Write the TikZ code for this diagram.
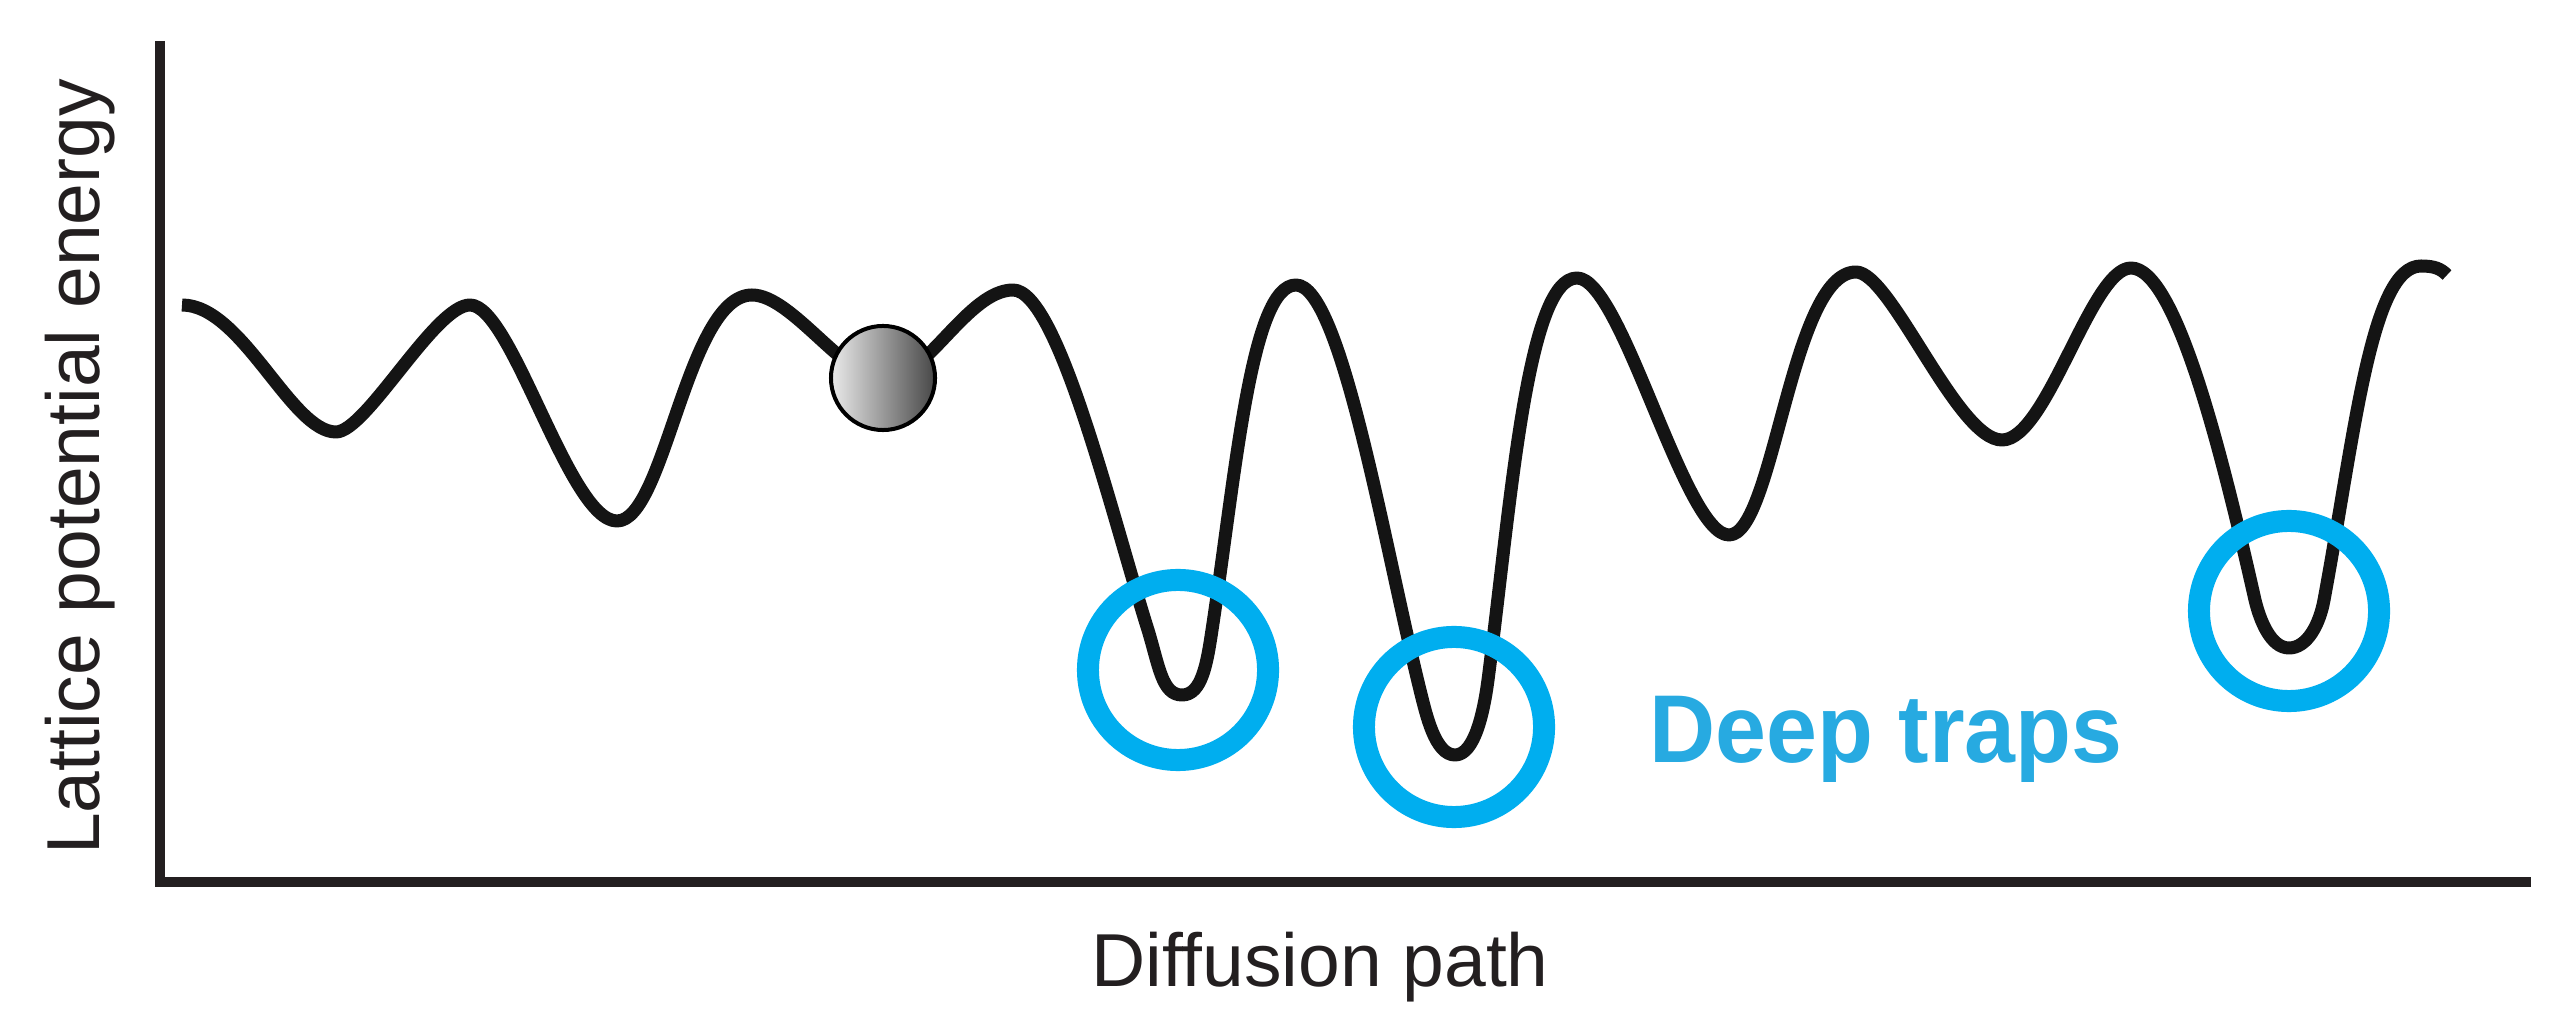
\documentclass[tikz,border=0pt]{standalone}
\usepackage{fontspec}
\setmainfont{Liberation Sans}
\definecolor{trapblue}{HTML}{00AEEF}
\definecolor{traptext}{HTML}{27AAE1}
\definecolor{inkgray}{HTML}{231F20}
\begin{document}
\begin{tikzpicture}[x=0.01cm,y=-0.01cm,
  axisline/.style={line width=0.105cm, draw=inkgray, line join=miter},
  energy/.style={line width=0.13cm, draw=black!92, line join=round},
  trapring/.style={circle, draw=trapblue, line width=0.22cm, minimum size=1.8cm, inner sep=0pt},
  atom/.style={circle, draw=black, line width=0.04cm, minimum size=1.04cm, inner sep=0pt,
    left color=black!8, right color=black!72, shading angle=90},
  labeltext/.style={text=inkgray, font=\fontsize{21.34pt}{24pt}\selectfont, inner sep=0pt, anchor=base},
  traplabel/.style={text=traptext, font=\fontsize{27.4pt}{30pt}\selectfont\bfseries, inner sep=0pt, anchor=base}
]
\useasboundingbox (0,0) rectangle (2572,1028);
\fill[white] (0,0) rectangle (2572,1028);

% axes
\coordinate (ytop) at (160,41);
\coordinate (origin) at (160,882);
\coordinate (xend) at (2531,882);
\draw[axisline] (ytop) -- (origin) -- (xend);

% energy landscape: extrema and slope points of the curve
\coordinate (s0) at (182,305);
\coordinate (v1) at (336,432);
\coordinate (p1) at (470,305);
\coordinate (v2) at (617,521);
\coordinate (p2) at (752,295);
\coordinate (vb) at (885,380);
\coordinate (p3) at (1013,290);
\coordinate (m3) at (1148,630);
\coordinate (v3) at (1182,695);
\coordinate (n3) at (1212,630);
\coordinate (p4) at (1296,285);
\coordinate (m4) at (1420,690);
\coordinate (v4) at (1455,755);
\coordinate (n4) at (1488,680);
\coordinate (p5) at (1577,278);
\coordinate (v5) at (1729,535);
\coordinate (p6) at (1856,272);
\coordinate (v6) at (2002,440);
\coordinate (p7) at (2131,268);
\coordinate (m7) at (2255,600);
\coordinate (v7) at (2289,648);
\coordinate (n7) at (2324,600);
\coordinate (p8) at (2421,266);
\coordinate (tip) at (2447,275);

\draw[energy] (s0)
  .. controls +(60,0) and +(-45,0) .. (v1)
  .. controls +(30,0) and +(-35,0) .. (p1)
  .. controls +(42,0) and +(-48,0) .. (v2)
  .. controls +(48,0) and +(-65,0) .. (p2)
  .. controls +(40,0) and +(-40,0) .. (vb)
  .. controls +(40,0) and +(-45,0) .. (p3)
  .. controls +(45,0) and +(-36,-114) .. (m3)
  .. controls +(11,36) and +(-20,0) .. (v3)
  .. controls +(20,0) and +(-5,33) .. (n3)
  .. controls +(24,-158) and +(-45,0) .. (p4)
  .. controls +(45,0) and +(-36,-146) .. (m4)
  .. controls +(6,24) and +(-20,0) .. (v4)
  .. controls +(20,0) and +(-4,30) .. (n4)
  .. controls +(23,-178) and +(-50,0) .. (p5)
  .. controls +(45,0) and +(-45,0) .. (v5)
  .. controls +(45,0) and +(-65,0) .. (p6)
  .. controls +(35,0) and +(-45,0) .. (v6)
  .. controls +(45,0) and +(-40,0) .. (p7)
  .. controls +(45,0) and +(-33,-146) .. (m7)
  .. controls +(5,21) and +(-18,0) .. (v7)
  .. controls +(18,0) and +(-4.5,24.6) .. (n7)
  .. controls +(31,-167) and +(-50,0) .. (p8)
  .. controls +(14,0) and +(-6,-6) .. (tip);

% atom
\node[atom] (ball) at (883,378) {};

% deep-trap rings
\node[trapring] (ring1) at (1178,670) {};
\node[trapring] (ring2) at (1454,727) {};
\node[trapring] (ring3) at (2289,611) {};

% labels
\node[traplabel] (traps) at (1886,763) {\scalebox{0.95}[1]{Deep traps}};
\node[labeltext] (xlabel) at (1320,987) {Diffusion path};
\node[labeltext, rotate=90] (ylabel) at (100,467) {Lattice potential energy};
\end{tikzpicture}
\end{document}
